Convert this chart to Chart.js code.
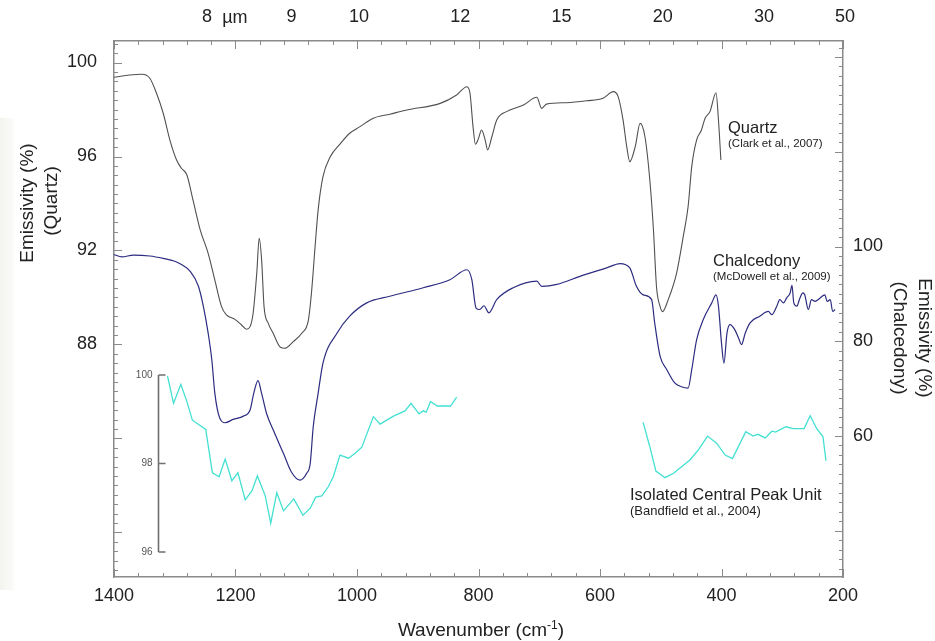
<!DOCTYPE html>
<html>
<head>
<meta charset="utf-8">
<script src="https://cdn.jsdelivr.net/npm/chart.js@4.4.1/dist/chart.umd.min.js"></script>
<style>
html,body{margin:0;padding:0;background:#fff;overflow:hidden}
#wrap{position:relative;width:935px;height:641px;background:#fff}
#shade{position:absolute;left:0;top:118px;width:16px;height:472px;background:linear-gradient(to right,#f3f3ef,#f9f9f7 70%,#fff)}
canvas{position:absolute;left:0;top:0}
</style>
</head>
<body>
<div id="wrap"><div id="shade"></div><canvas id="c" width="935" height="641"></canvas></div>
<script>
// ---------- data (wavenumber in cm-1, emissivity in %) ----------
const quartzWn = [1400,1374,1354,1341,1330,1319,1308,1297,1289,1280,1270,1258,1245,1234,1223,1215,1201,1190,1182,1176,1171,1165,1161,1157,1153,1146,1138,1126,1119,1105,1091,1080,1075,1069,1064,1056,1044,1028,1012,995,973,946,918,863,836,819,814,809,805,800,795,789,785,778,770,754,726,704,696,688,655,622,595,578,570,562,556,551,542,534,526,518,512,507,501,497,488,474,463,455,449,441,433,427,419,409,405,401];
const quartzVal = [99.37,99.47,99.50,99.33,98.69,97.84,96.70,95.85,95.50,95.21,94.15,92.87,91.88,90.74,89.61,89.26,89.07,88.83,88.65,88.76,89.33,91.03,92.52,91.60,89.61,88.90,88.48,87.88,87.84,88.12,88.48,89.04,90.18,92.16,93.72,95.14,95.99,96.53,96.99,97.27,97.63,97.80,97.98,98.26,98.62,98.97,98.69,97.27,96.52,96.77,97.13,96.70,96.28,96.84,97.55,97.91,98.19,98.52,98.05,98.23,98.29,98.37,98.48,98.76,98.54,97.55,96.42,95.78,96.42,97.41,96.84,95.00,92.87,90.46,89.61,89.40,89.89,91.03,92.59,93.86,95.57,96.70,97.13,97.63,97.91,98.71,97.55,95.85];

const chalcWn = [1400,1387,1368,1341,1319,1300,1289,1275,1261,1253,1245,1239,1234,1226,1217,1204,1187,1176,1170,1163,1157,1149,1138,1121,1108,1094,1083,1077,1072,1064,1056,1033,1012,984,946,891,847,819,811,804,798,791,783,770,743,704,696,671,633,589,567,551,540,529,515,510,501,490,477,466,455,449,441,430,416,409,405,400,396,391,386,378,372,367,361,353,337,323,317,309,304,298,293,287,284,281,276,271,266,263,257,252,246,238,230,226,221,217,213];
const chalcVal = [98.3,97.8,98.2,98.0,97.5,96.9,96.2,94.8,91.6,87.4,81.7,76.1,69.0,63.8,62.8,63.5,64.2,65.5,69.0,71.7,69.0,64.8,61.3,56.3,52.4,50.7,52.1,54.2,62.0,69.0,75.4,81.7,85.3,88.1,89.5,91.3,93.0,95.1,93.0,87.0,86.7,87.5,86.0,88.8,91.3,92.7,91.6,92.0,93.7,95.5,96.4,95.5,91.6,89.8,88.8,83.9,76.8,74.0,71.2,70.4,70.1,74.0,80.3,84.6,88.1,89.8,87.4,79.6,75.4,81.7,83.5,82.4,80.7,79.3,81.7,83.9,85.3,86.3,85.6,87.4,88.8,88.1,89.1,90.2,91.8,88.1,87.4,89.1,90.2,89.8,86.7,88.8,88.4,89.1,89.8,88.4,88.8,86.3,86.7];

const peakUnitWnA = [1312,1302,1290,1280,1271,1249,1238,1227,1217,1206,1196,1184,1173,1164,1151,1142,1132,1121,1104,1089,1077,1068,1058,1047,1039,1028,1014,1003,992,973,962,940,921,911,898,891,886,879,868,846,836];
const peakUnitValA = [99.98,99.36,99.79,99.40,98.98,98.77,97.79,97.70,98.10,97.61,97.79,97.18,97.38,97.72,97.27,96.65,97.34,96.93,97.20,96.83,96.99,97.24,97.27,97.48,97.70,98.19,98.12,98.23,98.37,99.06,98.89,99.07,99.19,99.36,99.12,99.19,99.16,99.40,99.30,99.30,99.50];
const peakUnitWnB = [529,518,508,493,479,452,438,423,408,394,382,360,348,340,328,317,311,294,282,264,254,243,233,228];
const peakUnitValB = [98.93,98.38,97.83,97.68,97.78,98.08,98.31,98.62,98.46,98.19,98.11,98.72,98.62,98.66,98.58,98.73,98.71,98.83,98.79,98.79,99.08,98.78,98.61,98.06];

// ---------- tick labels ----------
const wavenumberTicks = [1400,1200,1000,800,600,400,200];
const micronTicks = [8,9,10,12,15,20,30,50];
const micronLabels = ['8','9','10','12','15','20','30','50'];
const quartzTicks = [88,92,96,100];
const chalcTicks = [60,80,100];
const peakUnitTicks = [96,98,100];
const peakUnitAxisWn = 1328;

// ---------- styling ----------
const FONT = "'Liberation Sans', Arial, Helvetica, sans-serif";
const AXIS = '#8a8a8a';
const TXT = '#222222';

const pts = (xs, ys) => xs.map((x, i) => ({x: x, y: ys[i]}));
const setTicks = vals => scale => { scale.ticks = vals.map(v => ({value: v})); };
const plain = v => String(v);

const decor = {
  id: 'decor',
  afterDraw(chart) {
    const {ctx, chartArea: a} = chart;
    const x = chart.scales.x, yQ = chart.scales.yQ, yC = chart.scales.yC, yI = chart.scales.yI;
    ctx.save();
    ctx.strokeStyle = AXIS;
    ctx.lineWidth = 1;
    ctx.beginPath();
    // bottom & top minor/major ticks (every 40 cm-1)
    for (let v = 200; v <= 1400; v += 40) {
      const px = Math.round(x.getPixelForValue(v)) + 0.5;
      const len = (v % 200 === 0) ? 8 : 4;
      ctx.moveTo(px, a.bottom); ctx.lineTo(px, a.bottom - len);
      ctx.moveTo(px, a.top); ctx.lineTo(px, a.top + len);
    }
    // left ticks (quartz scale, every 0.4)
    for (let k = Math.ceil(yQ.min / 0.4); k * 0.4 <= yQ.max; k++) {
      const py = Math.round(yQ.getPixelForValue(k * 0.4)) + 0.5;
      const len = (k % 10 === 0) ? 8 : 4;
      ctx.moveTo(a.left, py); ctx.lineTo(a.left + len, py);
    }
    // right ticks (chalcedony scale, every 2)
    for (let v = Math.ceil(yC.min / 2) * 2; v <= yC.max; v += 2) {
      const py = Math.round(yC.getPixelForValue(v)) + 0.5;
      const len = (v % 20 === 0) ? 8 : 4;
      ctx.moveTo(a.right, py); ctx.lineTo(a.right - len, py);
    }
    ctx.stroke();

    // inset axis bracket for isolated central peak unit
    const bx = Math.round(x.getPixelForValue(peakUnitAxisWn)) + 0.5;
    const yTop = yI.getPixelForValue(Math.max(...peakUnitTicks));
    const yBot = yI.getPixelForValue(Math.min(...peakUnitTicks));
    ctx.strokeStyle = '#6f6f6f';
    ctx.lineWidth = 1.6;
    ctx.beginPath();
    ctx.moveTo(bx, yTop); ctx.lineTo(bx, yBot);
    peakUnitTicks.forEach(v => {
      const py = yI.getPixelForValue(v);
      ctx.moveTo(bx, py); ctx.lineTo(bx + 7, py);
    });
    ctx.stroke();
    ctx.fillStyle = '#555';
    ctx.font = '10px ' + FONT;
    ctx.textAlign = 'right';
    ctx.textBaseline = 'middle';
    peakUnitTicks.forEach(v => ctx.fillText(String(v), bx - 6, yI.getPixelForValue(v)));

    // "µm" unit after the 8 µm top label
    ctx.fillStyle = TXT;
    ctx.font = '18px ' + FONT;
    ctx.textAlign = 'left';
    ctx.textBaseline = 'middle';
    ctx.fillText('\u00b5m', chart.scales.xTop.getPixelForValue(10000 / micronTicks[0]) + 17, 18);

    // series annotations
    const note = (t, size, px, py) => { ctx.font = size + 'px ' + FONT; ctx.textBaseline = 'alphabetic'; ctx.fillText(t, px, py); };
    ctx.fillStyle = TXT;
    note('Quartz', 16.5, 728, 133);
    note('(Clark et al., 2007)', 11.5, 728, 147);
    note('Chalcedony', 16.5, 713, 266);
    note('(McDowell et al., 2009)', 11.5, 713, 280);
    note('Isolated Central Peak Unit', 16.5, 630, 500);
    note('(Bandfield et al., 2004)', 13, 630, 515);

    // axis titles
    ctx.font = '19px ' + FONT;
    ctx.textAlign = 'center';
    ctx.textBaseline = 'alphabetic';
    const rot = (t, px, py, ang) => { ctx.save(); ctx.translate(px, py); ctx.rotate(ang); ctx.fillText(t, 0, 0); ctx.restore(); };
    rot('Emissivity (%)', 33, 203, -Math.PI / 2);
    rot('(Quartz)', 56.5, 201, -Math.PI / 2);
    rot('Emissivity (%)', 918.5, 338, Math.PI / 2);
    rot('(Chalcedony)', 894, 338, Math.PI / 2);

    // bottom title with superscript
    const p1 = 'Wavenumber (cm', p2 = '-1', p3 = ')';
    ctx.font = '19px ' + FONT;
    const w1 = ctx.measureText(p1).width, w3 = ctx.measureText(p3).width;
    ctx.font = '12px ' + FONT;
    const w2 = ctx.measureText(p2).width;
    let sx = 481 - (w1 + w2 + w3) / 2;
    const base = 636;
    ctx.textAlign = 'left';
    ctx.font = '19px ' + FONT; ctx.fillText(p1, sx, base); sx += w1;
    ctx.font = '12px ' + FONT; ctx.fillText(p2, sx, base - 7); sx += w2;
    ctx.font = '19px ' + FONT; ctx.fillText(p3, sx, base);
    ctx.restore();
  }
};

const lineDs = (label, data, axis, color, width, smooth) => ({
  label: label, data: data, yAxisID: axis, borderColor: color, borderWidth: width,
  pointRadius: 0, fill: false, tension: 0,
  cubicInterpolationMode: smooth ? 'monotone' : 'default'
});

new Chart(document.getElementById('c'), {
  type: 'line',
  data: {
    datasets: [
      lineDs('Quartz (Clark et al., 2007)', pts(quartzWn, quartzVal), 'yQ', '#505050', 1.1, true),
      lineDs('Chalcedony (McDowell et al., 2009)', pts(chalcWn, chalcVal), 'yC', '#2c2c80', 1.2, true),
      lineDs('Isolated Central Peak Unit (Bandfield et al., 2004)', pts(peakUnitWnA, peakUnitValA), 'yI', '#43e0d2', 1.3, false),
      lineDs('Isolated Central Peak Unit (Bandfield et al., 2004), far IR', pts(peakUnitWnB, peakUnitValB), 'yI', '#43e0d2', 1.3, false)
    ]
  },
  options: {
    responsive: false,
    animation: false,
    devicePixelRatio: 1,
    layout: {padding: 0},
    plugins: {legend: {display: false}, tooltip: {enabled: false}},
    scales: {
      x: {
        type: 'linear', position: 'bottom', min: 200, max: 1400, reverse: true,
        afterBuildTicks: setTicks(wavenumberTicks),
        afterFit: s => { s.height = 64; },
        grid: {display: false, drawTicks: false},
        border: {display: true, color: AXIS, width: 1.5},
        ticks: {autoSkip: false, maxRotation: 0, padding: 8, color: TXT, font: {family: FONT, size: 18}, callback: plain}
      },
      xTop: {
        type: 'linear', position: 'top', min: 200, max: 1400, reverse: true,
        afterBuildTicks: s => { s.ticks = micronTicks.map(m => ({value: 10000 / m})); },
        afterFit: s => { s.height = 41; },
        grid: {display: false, drawTicks: false},
        border: {display: true, color: AXIS, width: 1.5},
        ticks: {autoSkip: false, maxRotation: 0, padding: 13, labelOffset: 2, color: TXT, font: {family: FONT, size: 18},
                callback: (v, i) => micronLabels[i]}
      },
      yQ: {
        type: 'linear', position: 'left', min: 78.106, max: 100.915,
        afterBuildTicks: setTicks(quartzTicks),
        afterFit: s => { s.width = 114; },
        grid: {display: false, drawTicks: false},
        border: {display: true, color: AXIS, width: 1.5},
        ticks: {autoSkip: false, padding: 17, color: TXT, font: {family: FONT, size: 18}, callback: plain}
      },
      yC: {
        type: 'linear', position: 'right', min: 30.24, max: 143.38,
        afterBuildTicks: setTicks(chalcTicks),
        afterFit: s => { s.width = 92; },
        grid: {display: false, drawTicks: false},
        border: {display: true, color: AXIS, width: 1.5},
        ticks: {autoSkip: false, padding: 10, color: TXT, font: {family: FONT, size: 18}, callback: plain}
      },
      yI: {
        type: 'linear', display: false, min: 95.435, max: 107.55
      }
    }
  },
  plugins: [decor]
});
</script>
</body>
</html>
